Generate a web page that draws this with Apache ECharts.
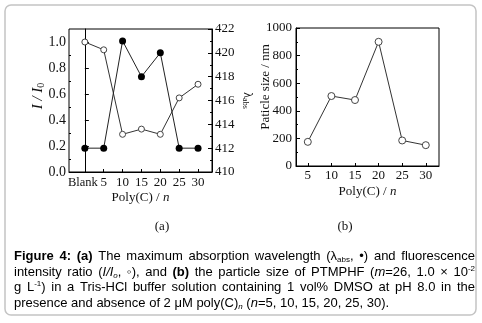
<!DOCTYPE html>
<html><head><meta charset="utf-8">
<script src="https://cdn.jsdelivr.net/npm/echarts@6/dist/echarts.min.js"></script>
<style>html,body{margin:0;padding:0;background:#fff}#c{width:482px;height:323px}</style>
</head><body><div id="c"></div>
<script>
// ---- data ----
const xLeft = [0, 5, 10, 15, 20, 25, 30];
const xLeftLabels = ['Blank', '5', '10', '15', '20', '25', '30'];
const intensityRatio = [1.00, 0.94, 0.29, 0.33, 0.29, 0.57, 0.675];
const lambdaAbs = [412, 412, 421, 418, 420, 412, 412];
const xRight = [5, 10, 15, 20, 25, 30];
const particleSize = [175, 507, 478, 900, 185, 151];
const leftYTicks = [0, 0.2, 0.4, 0.6, 0.8, 1.0];
const leftYMinor = [0.1, 0.3, 0.5, 0.7, 0.9];
const captionLines = [
  '{b|Figure 4: (a)} The maximum absorption wavelength (λ{sub|abs}, •) and fluorescence',
  'intensity ratio ({i|I/I}{isub|o}, ◦), and {b|(b)} the particle size of PTMPHF ({i|m}=26, 1.0 × 10{sup|-2}',
  'g L{sup|-1}) in a Tris-HCl buffer solution containing 1 vol% DMSO at pH 8.0 in the',
  'presence and absence of 2 μM poly(C){isub|n} ({i|n}=5, 10, 15, 20, 25, 30).'
];

const SERIF = '"Liberation Serif", "DejaVu Serif", serif';
const SANS = '"Liberation Sans", Arial, sans-serif';
const TXT = '#111';
const serifRich = {
  r: {fontFamily: SERIF, fontSize: 13, color: TXT},
  i: {fontFamily: SERIF, fontSize: 13, color: TXT, fontStyle: 'italic'},
  bi: {fontFamily: SERIF, fontSize: 15, color: TXT, fontStyle: 'italic'},
  bs: {fontFamily: SERIF, fontSize: 10, color: TXT, verticalAlign: 'bottom'},
  s: {fontFamily: SERIF, fontSize: 8, color: TXT, verticalAlign: 'bottom'},
  l: {fontFamily: SERIF, fontSize: 12, color: TXT}
};

// ---- caption layout (justified) ----
const capStyles = {
  n: {font: '13px ' + SANS, rich: {fontSize: 13, fontFamily: SANS, color: '#000'}},
  b: {font: 'bold 13px ' + SANS, rich: {fontSize: 13, fontFamily: SANS, fontWeight: 'bold', color: '#000'}},
  i: {font: 'italic 13px ' + SANS, rich: {fontSize: 13, fontFamily: SANS, fontStyle: 'italic', color: '#000'}},
  sub: {font: '8px ' + SANS, rich: {fontSize: 8, fontFamily: SANS, color: '#000', verticalAlign: 'bottom'}},
  isub: {font: 'italic 8px ' + SANS, rich: {fontSize: 8, fontFamily: SANS, fontStyle: 'italic', color: '#000', verticalAlign: 'bottom'}},
  sup: {font: '8px ' + SANS, rich: {fontSize: 8, fontFamily: SANS, color: '#000', verticalAlign: 'top'}}
};
const capRich = {};
Object.keys(capStyles).forEach(k => capRich[k] = Object.assign({lineHeight: 15}, capStyles[k].rich));
const mctx = document.createElement('canvas').getContext('2d');
function parseRuns(s) {
  const runs = []; const re = /\{(\w+)\|([^}]*)\}|([^{]+)/g; let m;
  while ((m = re.exec(s))) runs.push(m[1] ? {st: m[1], t: m[2]} : {st: 'n', t: m[3]});
  return runs;
}
function words(s) {
  const ws = [[]];
  parseRuns(s).forEach(r => {
    const parts = r.t.split(' ');
    parts.forEach((p, j) => {
      if (j > 0) ws.push([]);
      if (p.length) ws[ws.length - 1].push({st: r.st, t: p});
    });
  });
  return ws.filter(w => w.length);
}
function wWidth(w) { return w.reduce((a, r) => { mctx.font = capStyles[r.st].font; return a + mctx.measureText(r.t).width; }, 0); }
const capLeft = 14, capRight = 475, capY = [256, 272, 287.5, 303];
const captionEls = [];
captionLines.forEach((line, li) => {
  const ws = words(line);
  const widths = ws.map(wWidth);
  const total = widths.reduce((a, b) => a + b, 0);
  mctx.font = capStyles.n.font;
  const sp = mctx.measureText(' ').width;
  const justify = li < captionLines.length - 1;
  const gap = justify ? (capRight - capLeft - total) / (ws.length - 1) : sp;
  let x = capLeft;
  ws.forEach((w, k) => {
    captionEls.push({type: 'text', x: x, y: capY[li], z: 10,
      style: {text: w.map(r => '{' + r.st + '|' + r.t + '}').join(''), rich: capRich,
        verticalAlign: 'middle', align: 'left', fill: '#000', font: capStyles.n.font}});
    x += widths[k] + gap;
  });
});

const chart = echarts.init(document.getElementById('c'), null, {renderer: 'canvas'});
const axisCommon = {
  axisLine: {show: true, lineStyle: {color: '#000', width: 1}},
  splitLine: {show: false},
  nameMoveOverlap: false
};
const labelCommon = {color: TXT, fontFamily: SERIF, fontSize: 13};
chart.setOption({
  animation: false,
  backgroundColor: '#fff',
  grid: [
    {left: 69, top: 29, width: 143, height: 143, show: true, borderColor: '#000', borderWidth: 1, backgroundColor: 'transparent'},
    {left: 296, top: 28, width: 143, height: 138, show: true, borderColor: '#000', borderWidth: 1, backgroundColor: 'transparent'}
  ],
  xAxis: [
    Object.assign({}, axisCommon, {gridIndex: 0, type: 'value', min: -4.2, max: 33.7,
      axisTick: {inside: true, length: 3, customValues: xLeft, lineStyle: {color: '#000'}},
      axisLabel: Object.assign({}, labelCommon, {customValues: xLeft, margin: 4,
        formatter: v => v === 0 ? '{bl|' + xLeftLabels[0] + '}' : xLeftLabels[xLeft.indexOf(v)],
        rich: {bl: {fontFamily: SERIF, fontSize: 12.5, color: TXT, padding: [0, 4, 0, 0]}}}),
      name: '{r|Poly(C) / }{i|n}', nameLocation: 'middle', nameGap: 19,
      nameTextStyle: {rich: serifRich}}),
    Object.assign({}, axisCommon, {gridIndex: 1, type: 'value', min: 2.5, max: 32.8,
      axisTick: {inside: true, length: 3, customValues: xRight, lineStyle: {color: '#000'}},
      axisLabel: Object.assign({}, labelCommon, {customValues: xRight, margin: 3}),
      name: '{r|Poly(C) / }{i|n}', nameLocation: 'middle', nameGap: 19,
      nameTextStyle: {rich: serifRich}})
  ],
  yAxis: [
    Object.assign({}, axisCommon, {gridIndex: 0, type: 'value', min: 0, max: 1.1, position: 'left',
      axisTick: {inside: true, length: 4, customValues: leftYTicks, lineStyle: {color: '#000'}},
      axisLabel: Object.assign({}, labelCommon, {customValues: leftYTicks, margin: 3, fontSize: 14, formatter: v => v.toFixed(1)}),
      name: '{bi|I / I}{bs|0}', nameLocation: 'middle', nameGap: 23, nameRotate: 90,
      nameTextStyle: {rich: serifRich, padding: [0, 0, 0, 9]}}),
    Object.assign({}, axisCommon, {gridIndex: 0, type: 'value', min: 410, max: 422, interval: 2, position: 'right',
      axisTick: {inside: true, length: 4, lineStyle: {color: '#000'}},
      minorTick: {show: true, splitNumber: 2, length: 2, lineStyle: {color: '#000'}},
      minorSplitLine: {show: false},
      axisLabel: Object.assign({}, labelCommon, {margin: 3}),
      name: '{l|λ}{s|abs}', nameLocation: 'middle', nameGap: 29, nameRotate: -90,
      nameTextStyle: {rich: serifRich}}),
    {gridIndex: 0, type: 'value', min: 0, max: 1.1, position: 'left',
      axisLine: {show: false}, splitLine: {show: false}, axisLabel: {show: false},
      axisTick: {show: true, inside: true, length: 2, customValues: leftYMinor, lineStyle: {color: '#000'}}},
    Object.assign({}, axisCommon, {gridIndex: 1, type: 'value', min: 0, max: 1000, interval: 200,
      axisTick: {inside: true, length: 4, lineStyle: {color: '#000'}},
      minorTick: {show: true, splitNumber: 2, length: 2, lineStyle: {color: '#000'}},
      minorSplitLine: {show: false},
      axisLabel: Object.assign({}, labelCommon, {margin: 4, formatter: v => String(v)}),
      name: '{r|Paticle size / nm}', nameLocation: 'middle', nameGap: 24, nameRotate: 90,
      nameTextStyle: {rich: serifRich, padding: [0, 0, 0, 20]}})
  ],
  series: [
    {type: 'line', xAxisIndex: 0, yAxisIndex: 0, data: xLeft.map((x, i) => [x, intensityRatio[i]]),
      symbol: 'circle', symbolSize: 6, lineStyle: {color: '#333', width: 1},
      itemStyle: {color: '#fff', borderColor: '#444', borderWidth: 1}, z: 3},
    {type: 'line', xAxisIndex: 0, yAxisIndex: 1, data: xLeft.map((x, i) => [x, lambdaAbs[i]]),
      symbol: 'circle', symbolSize: 7, lineStyle: {color: '#222', width: 1},
      itemStyle: {color: '#000', borderColor: '#000', borderWidth: 0}, z: 4},
    {type: 'line', xAxisIndex: 1, yAxisIndex: 3, data: xRight.map((x, i) => [x, particleSize[i]]),
      symbol: 'circle', symbolSize: 7, lineStyle: {color: '#333', width: 1},
      itemStyle: {color: '#fff', borderColor: '#444', borderWidth: 1}, z: 3}
  ],
  graphic: [
    {type: 'rect', shape: {x: 5, y: 5, width: 471, height: 310, r: 6}, z: 0,
      style: {fill: 'none', stroke: '#c4c4c4', lineWidth: 1.5}},
    {type: 'text', x: 162, y: 227, style: {text: '(a)', font: '13px ' + SERIF, fill: TXT, align: 'center', verticalAlign: 'middle'}},
    {type: 'text', x: 345, y: 227, style: {text: '(b)', font: '13px ' + SERIF, fill: TXT, align: 'center', verticalAlign: 'middle'}}
  ].concat(captionEls)
});
</script></body></html>
